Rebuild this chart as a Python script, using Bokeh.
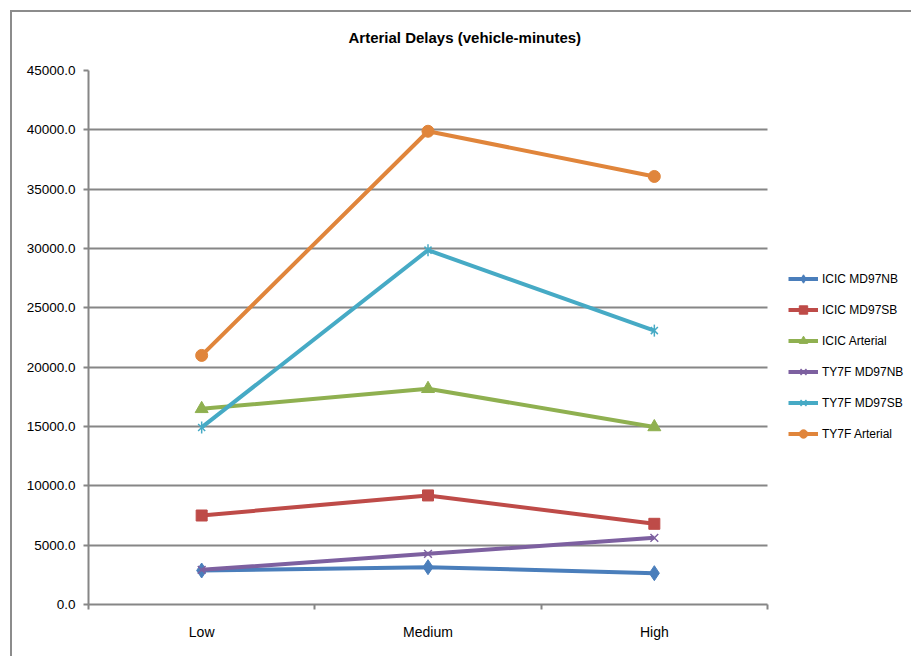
from math import pi

from bokeh.embed import file_html
from bokeh.models import FixedTicker, Grid, Legend, LegendItem, NumeralTickFormatter, Range1d
from bokeh.plotting import figure
from bokeh.resources import INLINE

# Delay scenarios and totals (vehicle-minutes)
categories = ["Low", "Medium", "High"]
icic_md97nb = [2865, 3145, 2640]
icic_md97sb = [7500, 9190, 6800]
icic_arterial = [16490, 18180, 14960]
ty7f_md97nb = [2920, 4270, 5620]
ty7f_md97sb = [14920, 29860, 23080]
ty7f_arterial = [20990, 39880, 36070]

y_ticks = list(range(0, 45001, 5000))

FONT = "Liberation Sans"
GRID = "#868686"
BORDER = "#8C8C8C"

W, H = 911, 656
LEFT, TOP, BOTTOM = 88, 70, 52
PLOT_RIGHT = 767          # right end of the gridded plot area, in pixels

n = len(categories)
# category i sits in the middle of slot [i, i+1]
xs = [i + 0.5 for i in range(n)]
# the frame runs to the right edge so the legend can live inside it;
# grid and axis are bounded to the category slots
x_end = n * (W - LEFT) / (PLOT_RIGHT - LEFT)

p = figure(width=W, height=H, output_backend="svg", toolbar_location=None,
           x_range=Range1d(0, x_end), y_range=Range1d(0, 45000),
           min_border_left=LEFT, min_border_right=0, min_border_top=TOP,
           min_border_bottom=BOTTOM)
p.outline_line_color = None
p.background_fill_color = None
p.border_fill_color = None

# chart-area border (top and left edges, inset from the page corner)
p.styles = {
    "background-color": "white",
    "background-image": f"linear-gradient({BORDER}, {BORDER}), linear-gradient({BORDER}, {BORDER})",
    "background-size": "calc(100% - 10px) 2px, 2px calc(100% - 10px)",
    "background-position": "10px 10px, 10px 10px",
    "background-repeat": "no-repeat",
}

p.title.text = "Arterial Delays (vehicle-minutes)"
p.title.align = "left"
p.title.offset = 260
p.title.standoff = 50
p.title.text_font = FONT
p.title.text_font_size = "15px"
p.title.text_font_style = "bold"
p.title.text_color = "#000000"

# y axis
yax = p.yaxis[0]
yax.ticker = FixedTicker(ticks=y_ticks, minor_ticks=[])
yax.formatter = NumeralTickFormatter(format="0.0")
yax.axis_line_color = GRID
yax.axis_line_width = 2
yax.major_tick_line_color = GRID
yax.major_tick_line_width = 2
yax.major_tick_out = 5
yax.major_tick_in = 0
yax.major_label_standoff = 8
yax.major_label_text_font = FONT
yax.major_label_text_font_size = "13.5px"
yax.major_label_text_color = "#000000"

# x axis: labels centred in each slot, tick marks on slot boundaries
xax = p.xaxis[0]
xax.bounds = (0, n)
xax.ticker = FixedTicker(ticks=xs, minor_ticks=list(range(n + 1)))
xax.major_label_overrides = {x: c for x, c in zip(xs, categories)}
xax.axis_line_color = GRID
xax.axis_line_width = 2
xax.major_tick_line_color = None
xax.major_tick_out = 0
xax.major_tick_in = 0
xax.minor_tick_line_color = GRID
xax.minor_tick_line_width = 2
xax.minor_tick_out = 5
xax.minor_tick_in = 0
xax.major_label_standoff = 14
xax.major_label_text_font = FONT
xax.major_label_text_font_size = "14px"
xax.major_label_text_color = "#000000"

# horizontal gridlines only across the category slots
p.xgrid.grid_line_color = None
if "cross_bounds" in Grid.properties():
    p.ygrid.ticker = FixedTicker(ticks=y_ticks)
    p.ygrid.cross_bounds = (0, n)
    p.ygrid.grid_line_color = GRID
    p.ygrid.grid_line_width = 2
else:
    p.ygrid.grid_line_color = None
    p.segment(x0=0, x1=n, y0=y_ticks, y1=y_ticks, line_color=GRID, line_width=2)

series = [
    ("ICIC MD97NB", icic_md97nb, "#4A7EBB", [("diamond", 15, 0)]),
    ("ICIC MD97SB", icic_md97sb, "#BE4B48", [("square", 11, 0)]),
    ("ICIC Arterial", icic_arterial, "#8FB050", [("triangle", 13, 0)]),
    ("TY7F MD97NB", ty7f_md97nb, "#7D60A0", [("x", 11, 0)]),
    ("TY7F MD97SB", ty7f_md97sb, "#46AAC5", [("x", 10, 0), ("dash", 12, pi / 2)]),
    ("TY7F Arterial", ty7f_arterial, "#E0853B", [("circle", 12, 0)]),
]

items = []
for name, vals, color, markers in series:
    rs = [p.line(xs, vals, line_color=color, line_width=4)]
    for marker, size, angle in markers:
        thin = marker in ("x", "dash")
        rs.append(p.scatter(xs, vals, marker=marker, size=size, angle=angle,
                            fill_color=color, line_color=color,
                            line_width=1.5 if thin else 1))
    items.append(LegendItem(label=name, renderers=rs))

legend = Legend(items=items, location=(700, 160), padding=0, margin=0,
                spacing=10, glyph_width=30, glyph_height=21, label_standoff=4,
                border_line_color=None, background_fill_alpha=0,
                label_text_font=FONT, label_text_font_size="12px",
                label_text_color="#000000")
p.add_layout(legend)

open("out.html", "w").write(file_html(p, INLINE))
